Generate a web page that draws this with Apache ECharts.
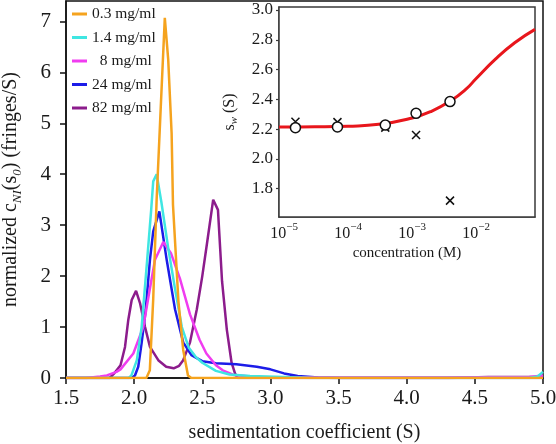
<!DOCTYPE html>
<html><head><meta charset="utf-8">
<script src="https://cdn.jsdelivr.net/npm/echarts@6/dist/echarts.min.js"></script>
<style>html,body{margin:0;padding:0;background:#fff}#c{width:556px;height:444px}</style>
</head><body><div id="c"></div>
<script>
// ---------- main plot data: sedimentation coefficient (S) vs normalized c(s) ----------
const seriesNames = ['0.3 mg/ml', '1.4 mg/ml', '  8 mg/ml', '24 mg/ml', '82 mg/ml'];
const seriesColors = ['#f5a31e', '#3fe6e2', '#f03cf0', '#1c1ce8', '#8c1c8c'];

const s03 = [1.5, 2.09, 2.115, 2.14, 2.165, 2.195, 2.225, 2.25, 2.275, 2.285, 2.325, 2.36, 2.395, 2.42, 5.0];
const c03 = [0, 0, 0.15, 1.55, 3.5, 5.3, 7.07, 6.25, 4.8, 3.4, 1.5, 0.55, 0.05, 0, 0];

const s14 = [1.5, 1.96, 1.98, 2.02, 2.055, 2.095, 2.125, 2.14, 2.165, 2.2, 2.25, 2.3, 2.35, 2.4, 2.45, 2.5, 2.6, 2.7, 2.85, 3.1, 3.3, 4.9, 4.96, 5.0];
const c14 = [0, 0, 0.05, 0.35, 1.0, 2.3, 3.3, 3.86, 4.0, 3.45, 2.55, 1.75, 1.0, 0.6, 0.42, 0.3, 0.14, 0.07, 0.04, 0.02, 0, 0, 0.03, 0.12];

const s8 = [1.5, 1.65, 1.75, 1.8, 1.87, 1.9, 1.994, 2.067, 2.11, 2.153, 2.214, 2.27, 2.336, 2.41, 2.48, 2.53, 2.6, 2.65, 2.73, 2.9, 3.2, 4.3, 4.9, 5.0];
const c8 = [0, 0, 0.03, 0.05, 0.12, 0.17, 0.48, 1.0, 1.67, 2.32, 2.67, 2.45, 1.95, 1.25, 0.75, 0.48, 0.25, 0.15, 0.06, 0.02, 0.01, 0.01, 0.02, 0.05];

const s24 = [1.5, 1.98, 2.006, 2.03, 2.055, 2.085, 2.116, 2.14, 2.185, 2.24, 2.3, 2.36, 2.42, 2.5, 2.6, 2.75, 2.9, 3.0, 3.1, 3.2, 3.35, 3.5, 5.0];
const c24 = [0, 0, 0.05, 0.22, 0.69, 1.34, 2.32, 2.88, 3.27, 2.3, 1.35, 0.7, 0.45, 0.33, 0.29, 0.27, 0.22, 0.17, 0.09, 0.04, 0.01, 0, 0];

const s82 = [1.5, 1.82, 1.85, 1.9, 1.933, 1.957, 1.982, 2.014, 2.043, 2.08, 2.116, 2.177, 2.235, 2.29, 2.33, 2.36, 2.41, 2.46, 2.5, 2.535, 2.58, 2.615, 2.645, 2.68, 2.715, 2.74, 2.76, 4.3, 4.6, 4.95, 5.0];
const c82 = [0, 0, 0.08, 0.25, 0.61, 1.14, 1.53, 1.71, 1.47, 1.0, 0.61, 0.35, 0.22, 0.19, 0.24, 0.35, 0.7, 1.35, 2.0, 2.65, 3.5, 3.3, 1.9, 0.95, 0.3, 0.09, 0, 0, 0.02, 0.02, 0];

const mainX = [s03, s14, s8, s24, s82];
const mainY = [c03, c14, c8, c24, c82];

const yTicksMain = [0, 1, 2, 3, 4, 5, 6, 7];

// ---------- inset data: s_w vs concentration (M) ----------
const concPts = [1.5e-5, 6.8e-5, 3.8e-4, 1.15e-3, 3.9e-3];
const swCircle = [2.21, 2.215, 2.227, 2.306, 2.385];
const swCross = [2.25, 2.247, 2.21, 2.16, 1.72];
const concFit = [8.3e-6, 1e-5, 3e-5, 1e-4, 3e-4, 1e-3, 2e-3, 4e-3, 7e-3, 1e-2, 2e-2, 4e-2, 8.3e-2];
const swFit = [2.215, 2.215, 2.216, 2.22, 2.232, 2.275, 2.32, 2.39, 2.47, 2.54, 2.67, 2.78, 2.87];

const xTicksInset = [1e-5, 1e-4, 1e-3, 1e-2];
const yTicksInset = [1.8, 2.0, 2.2, 2.4, 2.6, 2.8, 3.0];
const insetXMin = 8.3e-6, insetXMax = 0.083;

// minor log ticks (2..9 x decade) inside inset range
const minorTicks = [];
for (let d = -6; d <= -2; d++) for (let k = 2; k <= 9; k++) {
  const v = k * Math.pow(10, d);
  if (v >= insetXMin && v <= insetXMax) minorTicks.push(v);
}

const FONT = "'Liberation Serif','Times New Roman',serif";
const TXT = '#1a1a1a';
const zip = (a, b) => a.map((v, i) => [v, b[i]]);

const mainSeries = [];
for (let i = mainX.length - 1; i >= 0; i--) {
  mainSeries.push({
    name: seriesNames[i], type: 'line', xAxisIndex: 0, yAxisIndex: 0,
    data: zip(mainX[i], mainY[i]), showSymbol: false, symbol: 'none',
    lineStyle: { width: 2.5, color: seriesColors[i] }, itemStyle: { color: seriesColors[i] },
    z: 3 + (mainX.length - i)
  });
}

const insetAxisColor = '#3a3a3a';
const option = {
  animation: false,
  backgroundColor: '#fff',
  legend: {
    orient: 'vertical', left: 72, top: 5, padding: 0, icon: 'rect', itemWidth: 15, itemHeight: 3,
    itemGap: 5.5, data: seriesNames,
    textStyle: { fontFamily: FONT, fontSize: 15.5, color: TXT, lineHeight: 18 }
  },
  grid: [
    { left: 66, right: 13, top: 1, bottom: 66, outerBoundsMode: 'none', containLabel: false, show: true, borderColor: '#111', borderWidth: 1.5, backgroundColor: 'transparent' },
    { left: 279, right: 21, top: 7, bottom: 227, outerBoundsMode: 'none', containLabel: false, show: true, borderColor: insetAxisColor, borderWidth: 1.5, backgroundColor: '#fff', z: 5 }
  ],
  xAxis: [
    {
      gridIndex: 0, type: 'value', min: 1.5, max: 5.0, interval: 0.5,
      name: 'sedimentation coefficient (S)', nameLocation: 'middle', nameGap: 45,
      nameTextStyle: { fontFamily: FONT, fontSize: 20, color: TXT },
      axisLine: { onZero: false, lineStyle: { color: '#111', width: 1.5 } },
      axisTick: { show: true, inside: false, length: 6, lineStyle: { color: '#111', width: 1.5 } },
      axisLabel: { margin: 10, fontFamily: FONT, fontSize: 21, color: TXT, formatter: v => v.toFixed(1), showMinLabel: true, showMaxLabel: true },
      splitLine: { show: false }
    },
    {
      gridIndex: 1, type: 'log', logBase: 10, min: insetXMin, max: insetXMax,
      name: 'concentration (M)', nameLocation: 'middle', nameGap: 29,
      nameTextStyle: { fontFamily: FONT, fontSize: 15, color: TXT },
      axisLine: { onZero: false, lineStyle: { color: insetAxisColor, width: 1.5 } },
      axisTick: { show: true, inside: true, length: 6, customValues: xTicksInset, lineStyle: { color: insetAxisColor, width: 1.2 } },
      axisLabel: {
        margin: 5, customValues: xTicksInset, color: TXT,
        formatter: v => '{b|10}{s|\u2212' + Math.abs(Math.round(Math.log10(v))) + '}',
        rich: {
          b: { fontFamily: FONT, fontSize: 16, color: TXT, lineHeight: 20, verticalAlign: 'bottom' },
          s: { fontFamily: FONT, fontSize: 11, color: TXT, lineHeight: 12, verticalAlign: 'top' }
        }
      },
      splitLine: { show: false }, minorTick: { show: false }
    },
    {
      gridIndex: 1, type: 'log', logBase: 10, min: insetXMin, max: insetXMax,
      axisLine: { show: false }, axisLabel: { show: false }, splitLine: { show: false },
      axisTick: { show: true, inside: true, length: 3, customValues: minorTicks, lineStyle: { color: insetAxisColor, width: 1 } }
    },
    {
      gridIndex: 1, type: 'log', logBase: 10, position: 'top', min: insetXMin, max: insetXMax,
      axisLine: { show: false }, axisLabel: { show: false }, splitLine: { show: false },
      axisTick: { show: true, inside: true, length: 6, customValues: xTicksInset, lineStyle: { color: insetAxisColor, width: 1.2 } }
    },
    {
      gridIndex: 1, type: 'log', logBase: 10, position: 'top', min: insetXMin, max: insetXMax,
      axisLine: { show: false }, axisLabel: { show: false }, splitLine: { show: false },
      axisTick: { show: true, inside: true, length: 3, customValues: minorTicks, lineStyle: { color: insetAxisColor, width: 1 } }
    }
  ],
  yAxis: [
    {
      gridIndex: 0, type: 'value', min: 0, max: 7.4,
      name: '{n|normalized c}{sub|NI}{n|(s}{sub|0}{n|) (fringes/S)}', nameLocation: 'middle', nameGap: 42,
      nameTextStyle: {
        color: TXT,
        rich: {
          n: { fontFamily: FONT, fontSize: 20, color: TXT, lineHeight: 26, verticalAlign: 'middle' },
          sub: { fontFamily: FONT, fontSize: 13, fontStyle: 'italic', color: TXT, lineHeight: 14, verticalAlign: 'bottom' }
        }
      },
      axisLine: { show: true, onZero: false, lineStyle: { color: '#111', width: 1.5 } },
      axisTick: { show: true, inside: false, length: 6, customValues: yTicksMain, lineStyle: { color: '#111', width: 1.5 } },
      axisLabel: { margin: 15, fontFamily: FONT, fontSize: 21, color: TXT, customValues: yTicksMain, formatter: v => String(v) },
      splitLine: { show: false }
    },
    {
      gridIndex: 1, type: 'value', min: 1.61, max: 3.02,
      name: '{n|s}{w|w}{n| (S)}', nameLocation: 'middle', nameGap: 39,
      nameTextStyle: {
        color: TXT,
        rich: {
          n: { fontFamily: FONT, fontSize: 16, color: TXT, lineHeight: 20, verticalAlign: 'middle' },
          w: { fontFamily: FONT, fontSize: 11, fontStyle: 'italic', color: TXT, lineHeight: 11, verticalAlign: 'bottom' }
        }
      },
      axisLine: { show: true, onZero: false, lineStyle: { color: insetAxisColor, width: 1.5 } },
      axisTick: { show: true, inside: false, length: 3, customValues: yTicksInset, lineStyle: { color: insetAxisColor, width: 1.2 } },
      axisLabel: { margin: 6, fontFamily: FONT, fontSize: 17, color: TXT, customValues: yTicksInset, formatter: v => v.toFixed(1) },
      splitLine: { show: false }
    },
    {
      gridIndex: 1, type: 'value', position: 'right', min: 1.61, max: 3.02,
      axisLine: { show: false }, axisLabel: { show: false }, splitLine: { show: false },
      axisTick: { show: true, inside: true, length: 6, customValues: yTicksInset, lineStyle: { color: insetAxisColor, width: 1.2 } }
    }
  ],
  series: mainSeries.concat([
    {
      name: 'fit', type: 'line', xAxisIndex: 1, yAxisIndex: 1, data: zip(concFit, swFit),
      smooth: true, showSymbol: false, symbol: 'none', z: 20,
      lineStyle: { width: 3, color: '#e8161c' }
    },
    {
      name: 'cross', type: 'scatter', xAxisIndex: 1, yAxisIndex: 1, data: zip(concPts, swCross),
      symbol: 'path://M0,0L10,10M10,0L0,10', symbolSize: 8, z: 21,
      itemStyle: { color: 'none', borderColor: '#111', borderWidth: 1.5, opacity: 1 }
    },
    {
      name: 'circle', type: 'scatter', xAxisIndex: 1, yAxisIndex: 1, data: zip(concPts, swCircle),
      symbol: 'circle', symbolSize: 10, z: 22,
      itemStyle: { color: '#fff', borderColor: '#111', borderWidth: 1.5, opacity: 1 }
    }
  ])
};
const chart = echarts.init(document.getElementById('c'), null, { renderer: 'canvas' });
chart.setOption(option);
</script></body></html>
